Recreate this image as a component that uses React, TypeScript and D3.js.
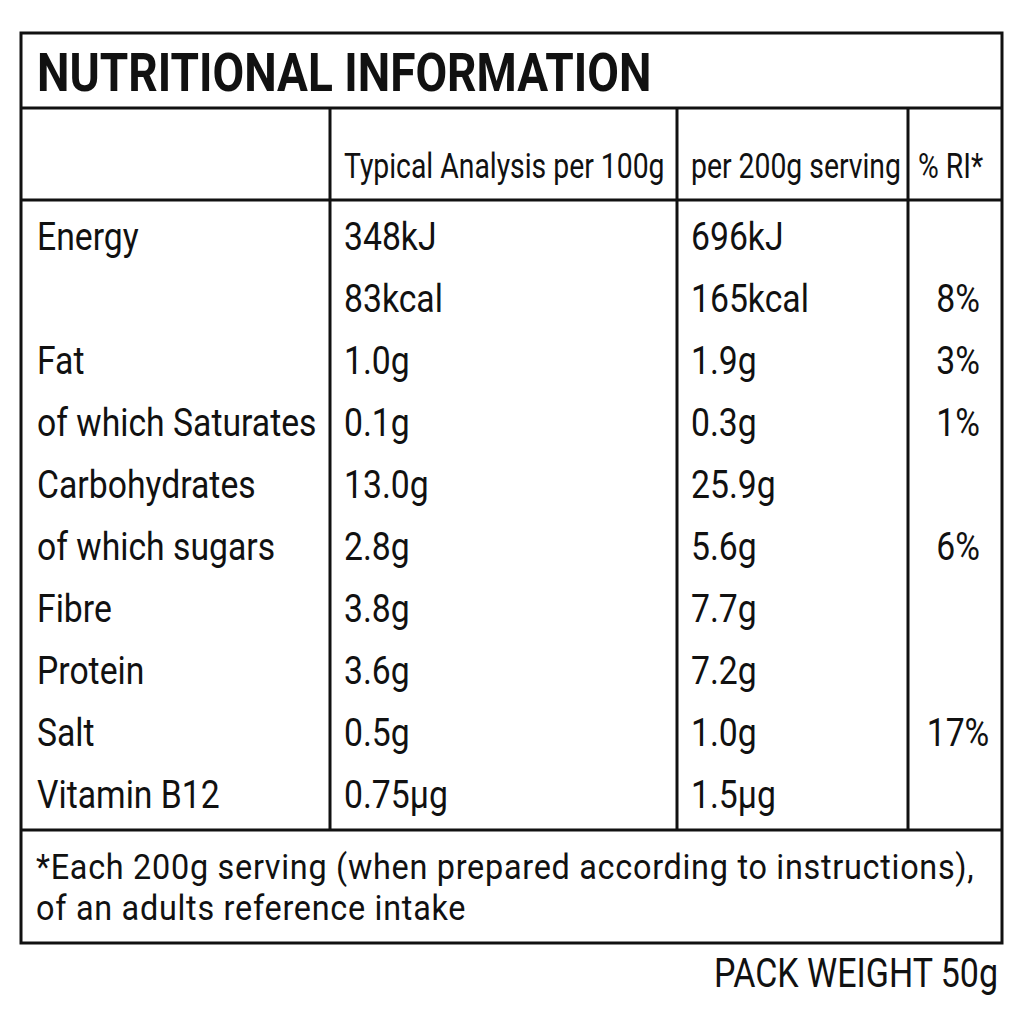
import { useMemo } from 'react'
import * as d3 from 'd3'

// table content
const headers = ['', 'Typical Analysis per 100g', 'per 200g serving', '% RI*']
const nutrients = [
  'Energy', '', 'Fat', 'of which Saturates', 'Carbohydrates',
  'of which sugars', 'Fibre', 'Protein', 'Salt', 'Vitamin B12',
]
const per100g = ['348kJ', '83kcal', '1.0g', '0.1g', '13.0g', '2.8g', '3.8g', '3.6g', '0.5g', '0.75µg']
const perServing = ['696kJ', '165kcal', '1.9g', '0.3g', '25.9g', '5.6g', '7.7g', '7.2g', '1.0g', '1.5µg']
const riPct = ['', '8%', '3%', '1%', '', '6%', '', '', '17%', '']
const footnote = [
  '*Each 200g serving (when prepared according to instructions),',
  'of an adults reference intake',
]
const title = 'NUTRITIONAL INFORMATION'
const packWeight = 'PACK WEIGHT 50g'

const W = 1024
const H = 1024
const FONT = 'Roboto, "Liberation Sans", sans-serif'

// column edges of the table
const colEdges = [21, 330, 677, 908, 1002]
const box = { top: 33, titleBottom: 108, headBottom: 200, bodyBottom: 830, bottom: 943 }

// Roboto squeezed horizontally so it reads like a condensed face
function Txt({ x, y, size, weight = 400, anchor = 'start', sx = 0.865, ls = 0, children }: any) {
  return (
    <text
      transform={`translate(${x},${y}) scale(${sx},1)`}
      fontSize={size}
      fontWeight={weight}
      fontFamily={FONT}
      textAnchor={anchor}
      letterSpacing={ls}
      fill="#111"
    >
      {children}
    </text>
  )
}

export default function App() {
  const rowY = useMemo(
    () => d3.scalePoint<number>().domain(d3.range(nutrients.length)).range([250, 808]),
    []
  )
  const pad = 14
  const riCenter = (colEdges[3] + colEdges[4]) / 2 + 3

  return (
    <svg
      width={W}
      height={H}
      style={{ position: 'absolute', left: 0, top: 0, background: '#fff' }}
    >
      <rect width={W} height={H} fill="#fff" />

      {/* grid */}
      <g stroke="#111" strokeWidth={3} fill="none">
        <rect x={colEdges[0]} y={box.top} width={colEdges[4] - colEdges[0]} height={box.bottom - box.top} />
        {[box.titleBottom, box.headBottom, box.bodyBottom].map(y => (
          <line key={y} x1={colEdges[0]} x2={colEdges[4]} y1={y} y2={y} />
        ))}
        {colEdges.slice(1, 4).map(x => (
          <line key={x} x1={x} x2={x} y1={box.titleBottom} y2={box.bodyBottom} />
        ))}
      </g>

      <Txt x={37} y={91} size={53} weight={700} sx={0.868}>{title}</Txt>

      {headers.map((h, i) => (
        <Txt key={i} x={i === 3 ? 918 : colEdges[i] + pad} y={178} size={35} sx={0.81}>{h}</Txt>
      ))}

      {nutrients.map((n, i) => (
        <g key={i}>
          <Txt x={colEdges[0] + 16} y={rowY(i)} size={39}>{n}</Txt>
          <Txt x={colEdges[1] + pad} y={rowY(i)} size={39}>{per100g[i]}</Txt>
          <Txt x={colEdges[2] + pad} y={rowY(i)} size={39}>{perServing[i]}</Txt>
          <Txt x={riCenter} y={rowY(i)} size={39} anchor="middle">{riPct[i]}</Txt>
        </g>
      ))}

      {footnote.map((l, i) => (
        <Txt key={i} x={36} y={879 + i * 41} size={36} sx={0.9} ls={0.8}>{l}</Txt>
      ))}

      <Txt x={998} y={987} size={40} anchor="end" sx={0.85}>{packWeight}</Txt>
    </svg>
  )
}
